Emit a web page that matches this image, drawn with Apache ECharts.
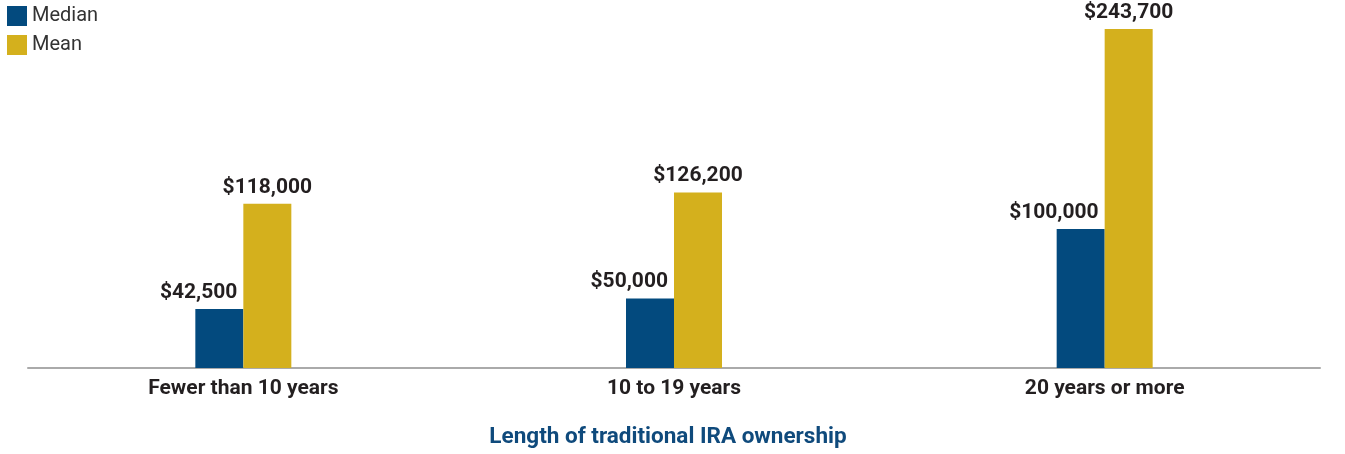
<!DOCTYPE html>
<html><head><meta charset="utf-8">
<script src="https://cdn.jsdelivr.net/npm/echarts@6/dist/echarts.min.js"></script>
<style>html,body{margin:0;padding:0;background:#fff}#c{width:1345px;height:454px}</style>
</head><body><div id="c"></div>
<script>
const categories = ['Fewer than 10 years', '10 to 19 years', '20 years or more'];
const medianValues = [42500, 50000, 100000];
const meanValues = [118000, 126200, 243700];
const seriesNames = ['Median', 'Mean'];
const axisTitle = 'Length of traditional IRA ownership';

const fmt = p => '$' + p.value.toLocaleString('en-US');
const baseLabel = {show: true, position: 'top', distance: 6, formatter: fmt,
  fontFamily: 'Roboto', fontWeight: 'bold', fontSize: 21, color: '#231f20'};

const chart = echarts.init(document.getElementById('c'));
chart.setOption({
  animation: false,
  grid: {left: 28, right: 25, top: 29, bottom: 85, containLabel: false},
  legend: {orient: 'vertical', left: 2, top: 2, padding: [4, 5, 5, 5], itemWidth: 20, itemHeight: 20, itemGap: 9,
    icon: 'rect', data: seriesNames,
    textStyle: {fontFamily: 'Roboto', fontSize: 20, color: '#333'}},
  xAxis: {type: 'category', data: categories,
    axisLine: {lineStyle: {color: '#aaaaaa', width: 2}},
    axisTick: {show: false},
    axisLabel: {margin: 10, fontFamily: 'Roboto', fontWeight: 'bold', fontSize: 21, color: '#231f20'},
    name: axisTitle, nameLocation: 'middle', nameGap: 58,
    nameTextStyle: {fontFamily: 'Roboto', fontWeight: 'bold', fontSize: 22.5, color: '#0f4a7c', padding: [0, 12, 0, 0]}},
  yAxis: {type: 'value', min: 0, max: 243700, show: false, splitLine: {show: false}},
  series: [
    {name: seriesNames[0], type: 'bar', data: medianValues, barWidth: 48, barGap: '0%',
      itemStyle: {color: '#034a7e'}, label: Object.assign({}, baseLabel, {align: 'right', offset: [18, 0]}), z: 1},
    {name: seriesNames[1], type: 'bar', data: meanValues, barWidth: 48, barGap: '0%',
      itemStyle: {color: '#d4b01d'}, label: baseLabel, z: 1}
  ]
});
</script></body></html>
